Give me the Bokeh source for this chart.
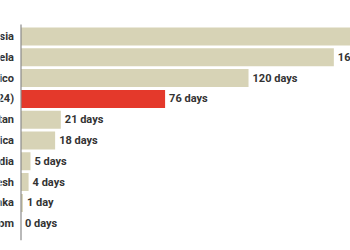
from bokeh.plotting import figure
from bokeh.models import Range1d, ColumnDataSource
from bokeh.core.properties import value
from bokeh.embed import file_html
from bokeh.resources import INLINE

countries = ["Russia", "Venezuela", "Mexico", "Average (2024)", "Pakistan",
             "South Africa", "India", "Bangladesh", "Sri Lanka", "United Kingdom"]
days = [190, 165, 120, 76, 21, 18, 5, 4, 1, 0]
highlight = "Average (2024)"

day_labels = [f"{d} day" if d == 1 else f"{d} days" for d in days]
ypos = [-i for i in range(len(countries))]
colors = ["#e4392b" if c == highlight else "#d7d3b6" for c in countries]

src = ColumnDataSource(dict(country=countries, days=days, label=day_labels,
                            y=ypos, color=colors))

px_per_day = 1.896
px_per_row = 20.8
W, H = 350, 250
x_start = -20.5 / px_per_day
x_end = x_start + W / px_per_day
y_end = 36 / px_per_row
y_start = y_end - H / px_per_row

p = figure(width=W, height=H, output_backend="svg", toolbar_location=None,
           x_range=Range1d(x_start, x_end), y_range=Range1d(y_start, y_end),
           min_border=0, outline_line_color=None, background_fill_color="white",
           border_fill_color="white")
p.axis.visible = False
p.grid.visible = False

p.hbar(y="y", left=0, right="days", height=0.865, fill_color="color",
       line_color=None, source=src)

# axis line
p.segment(x0=[0], y0=[0.58], x1=[0], y1=[ypos[-1] - 0.8],
          line_color="#8a8a8a", line_width=1.2)

FONT = value("Roboto")
p.text(x="days", y="y", text="label", x_offset=4, text_align="left",
       text_baseline="middle", text_font=FONT,
       text_font_size=value("11px"), text_font_style="bold",
       text_color="#333333", source=src)
p.text(x=0, y="y", text="country", x_offset=-7, text_align="right",
       text_baseline="middle", text_font=FONT,
       text_font_size=value("11px"), text_font_style="bold",
       text_color="#333333", source=src)

open("out.html", "w").write(file_html(p, INLINE))
